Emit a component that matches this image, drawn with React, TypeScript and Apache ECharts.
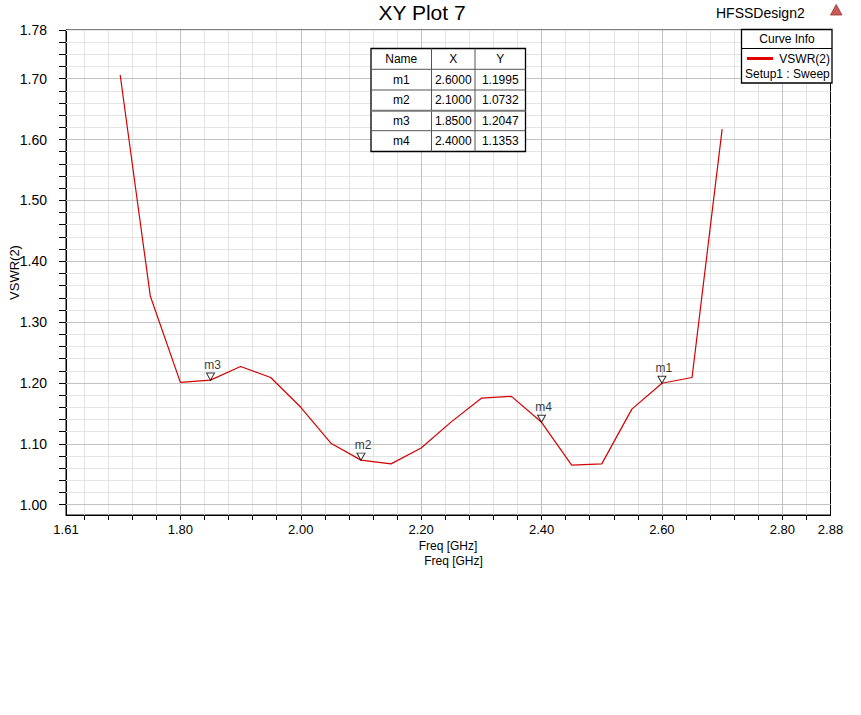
import React, { useEffect, useRef } from "react";
import * as echarts from "echarts";

// ---- data ----
const freqGHz = [1.70, 1.75, 1.80, 1.85, 1.90, 1.95, 2.00, 2.05, 2.10, 2.15, 2.20, 2.25, 2.30, 2.35, 2.40, 2.45, 2.50, 2.55, 2.60, 2.65, 2.70];
const vswr = [1.706, 1.343, 1.201, 1.2047, 1.227, 1.209, 1.160, 1.101, 1.0732, 1.067, 1.093, 1.136, 1.175, 1.178, 1.1353, 1.065, 1.067, 1.157, 1.1995, 1.209, 1.617];

const markerNames = ["m1", "m2", "m3", "m4"];
const markerFreq = [2.6, 2.1, 1.85, 2.4];
const markerVswr = [1.1995, 1.0732, 1.2047, 1.1353];

const xLabelValues = [1.61, 1.8, 2.0, 2.2, 2.4, 2.6, 2.8, 2.88];
const yLabelValues = [1.0, 1.1, 1.2, 1.3, 1.4, 1.5, 1.6, 1.7, 1.78];
const xMajorGrid = [1.8, 2.0, 2.2, 2.4, 2.6, 2.8];
const yMajorGrid = [1.0, 1.1, 1.2, 1.3, 1.4, 1.5, 1.6, 1.7];

const X_MIN = 1.61;
const X_MAX = 2.88;
const Y_MIN = 0.983;
const Y_MAX = 1.78;

const r2 = (v: number) => Math.round(v * 100) / 100;
const xMinorGrid: number[] = [];
for (let i = 0; i <= 30; i++) xMinorGrid.push(r2(1.64 + i * 0.04));
const yMinorGrid: number[] = [];
for (let i = 0; i <= 39; i++) yMinorGrid.push(r2(1.0 + i * 0.02));

const FONT = "'Liberation Sans', Arial, sans-serif";

function txt(text: string, x: number, y: number, size: number, align = "left", extra: any = {}) {
  return {
    type: "text",
    x,
    y,
    z: 100,
    silent: true,
    ...extra,
    style: {
      text,
      fontSize: size,
      fontFamily: FONT,
      fill: "#000",
      textAlign: align,
      textVerticalAlign: "middle",
      align,
      verticalAlign: "middle",
    },
  };
}

function ln(x1: number, y1: number, x2: number, y2: number, stroke: string, lineWidth: number) {
  return {
    type: "line",
    z: 101,
    silent: true,
    shape: { x1, y1, x2, y2 },
    style: { stroke, lineWidth },
  };
}

function gridSeries(values: number[], axis: "xAxis" | "yAxis", color: string) {
  return {
    type: "line",
    data: [],
    z: 1,
    silent: true,
    markLine: {
      z: 1,
      silent: true,
      animation: false,
      symbol: ["none", "none"],
      label: { show: false },
      emphasis: { disabled: true },
      lineStyle: { color, width: 1, type: "solid" },
      data: values.map((v) => ({ [axis]: v })),
    },
  };
}

export default function App() {
  const ref = useRef<HTMLDivElement>(null);

  useEffect(() => {
    if (!ref.current) return;
    const chart = echarts.init(ref.current, undefined, { renderer: "svg" });

    // marker table
    const tL = 371, tR = 525.5, tT = 48.5, tB = 151.5;
    const c1 = 431.5, c2 = 475;
    const rowY = [tT, 69.3, 90, 110.7, 130.7, tB];
    const table: any[] = [
      {
        type: "rect",
        z: 100,
        silent: true,
        shape: { x: tL, y: tT, width: tR - tL, height: tB - tT },
        style: { fill: "#fff", stroke: "#000", lineWidth: 1.3 },
      },
      ln(c1, tT, c1, tB, "#555", 1),
      ln(c2, tT, c2, tB, "#555", 1),
    ];
    for (let i = 1; i < rowY.length - 1; i++) {
      table.push(ln(tL, rowY[i], tR, rowY[i], i === 3 ? "#777" : "#555", i === 3 ? 2 : 1));
    }
    const cx = [(tL + c1) / 2, (c1 + c2) / 2, (c2 + tR) / 2];
    const hy = (rowY[0] + rowY[1]) / 2;
    table.push(txt("Name", cx[0], hy, 12, "center"));
    table.push(txt("X", cx[1], hy, 12, "center"));
    table.push(txt("Y", cx[2], hy, 12, "center"));
    markerNames.forEach((n, i) => {
      const y = (rowY[i + 1] + rowY[i + 2]) / 2;
      table.push(txt(n, cx[0], y, 12, "center"));
      table.push(txt(markerFreq[i].toFixed(4), cx[1], y, 12, "center"));
      table.push(txt(markerVswr[i].toFixed(4), cx[2], y, 12, "center"));
    });

    // curve info legend
    const legend: any[] = [
      {
        type: "rect",
        z: 100,
        silent: true,
        shape: { x: 741.5, y: 29.5, width: 90.5, height: 53.5 },
        style: { fill: "#fff", stroke: "#000", lineWidth: 1.3 },
      },
      ln(741.5, 48.5, 832, 48.5, "#000", 1),
      txt("Curve Info", 787, 39, 12, "center"),
      ln(747, 58.5, 773, 58.5, "#e00000", 3),
      txt("VSWR(2)", 830, 58.5, 12, "right"),
      txt("Setup1 : Sweep", 745, 73.5, 12, "left"),
    ];

    const option: any = {
      animation: false,
      backgroundColor: "#fff",
      grid: {
        left: 66,
        top: 30,
        width: 764.5,
        height: 485,
        show: true,
        borderColor: "#000",
        borderWidth: 1,
        backgroundColor: "#fff",
      },
      xAxis: {
        type: "value",
        min: X_MIN,
        max: X_MAX,
        axisLine: { show: true, onZero: false, lineStyle: { color: "#000", width: 1 } },
        axisTick: { show: true, customValues: xMinorGrid, length: 5, lineStyle: { color: "#000" } },
        axisLabel: {
          customValues: xLabelValues,
          formatter: (v: number) => v.toFixed(2),
          fontSize: 13,
          fontFamily: FONT,
          color: "#000",
          margin: 8,
          showMinLabel: true,
          showMaxLabel: true,
        },
        splitLine: { show: false },
      },
      yAxis: {
        type: "value",
        min: Y_MIN,
        max: Y_MAX,
        axisLine: { show: true, onZero: false, lineStyle: { color: "#000", width: 1 } },
        axisTick: { show: true, customValues: yMinorGrid.concat([1.78]), length: 7, lineStyle: { color: "#000" } },
        axisLabel: {
          customValues: yLabelValues,
          formatter: (v: number) => v.toFixed(2),
          fontSize: 14,
          fontFamily: FONT,
          color: "#000",
          margin: 19,
        },
        splitLine: { show: false },
      },
      graphic: [
        txt("XY Plot 7", 422, 12, 21, "center"),
        txt("HFSSDesign2", 716, 12.5, 14, "left"),
        {
          type: "polygon",
          z: 100,
          silent: true,
          shape: { points: [[830.5, 15], [842, 15], [836.2, 4.5]] },
          style: { fill: "#c85a5a", stroke: "#a03030", lineWidth: 0.8 },
        },
        txt("VSWR(2)", 14, 272.5, 13, "center", { rotation: Math.PI / 2 }),
        txt("Freq [GHz]", 448, 546, 12, "center"),
        txt("Freq [GHz]", 453.5, 561, 12, "center"),
        ...table,
        ...legend,
      ],
      series: [
        gridSeries(xMinorGrid, "xAxis", "#e4e4e4"),
        gridSeries(yMinorGrid, "yAxis", "#e4e4e4"),
        gridSeries(xMajorGrid, "xAxis", "#c2c2c2"),
        gridSeries(yMajorGrid, "yAxis", "#c2c2c2"),
        {
          type: "line",
          name: "VSWR(2)",
          z: 3,
          data: freqGHz.map((f, i) => [f, vswr[i]]),
          showSymbol: false,
          symbol: "none",
          lineStyle: { color: "#d40000", width: 1.2 },
          silent: true,
        },
        {
          type: "scatter",
          z: 4,
          silent: true,
          symbol: "path://M0,0 L10,0 L5,9 Z",
          symbolSize: [8, 7],
          symbolOffset: [0, -3.5],
          itemStyle: { color: "#fff", borderColor: "#000", borderWidth: 1 },
          label: {
            show: true,
            position: "top",
            distance: 2,
            formatter: "{b}",
            fontSize: 12,
            fontFamily: FONT,
            color: "#000",
            offset: [2, 0],
          },
          data: markerNames.map((n, i) => ({ name: n, value: [markerFreq[i], markerVswr[i]] })),
        },
      ],
    };

    chart.setOption(option);
    return () => chart.dispose();
  }, []);

  return (
    <div
      ref={ref}
      style={{ position: "fixed", left: 0, top: 0, width: 861, height: 715, background: "#fff" }}
    />
  );
}
